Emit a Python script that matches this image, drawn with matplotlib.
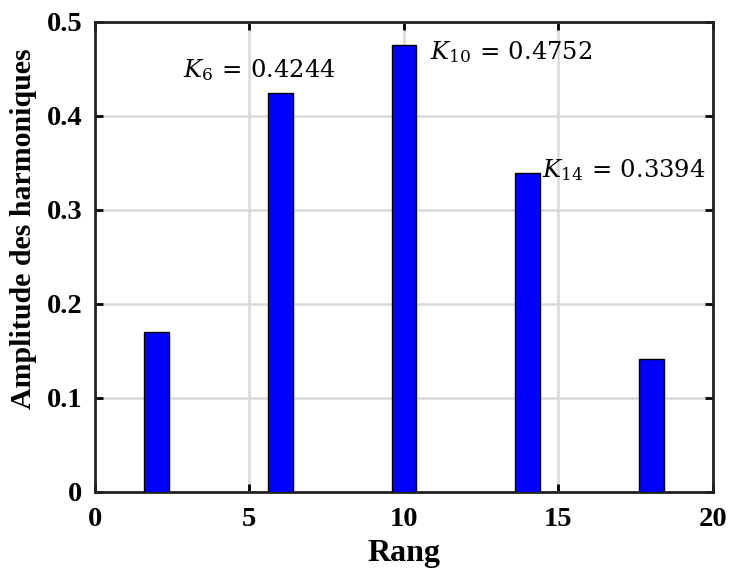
import matplotlib
matplotlib.use("Agg")
import matplotlib.pyplot as plt

rang = [2, 6, 10, 14, 18]
amplitude = [0.1698, 0.4244, 0.4752, 0.3394, 0.1415]
xticks = [0, 5, 10, 15, 20]
yticks = [0, 0.1, 0.2, 0.3, 0.4, 0.5]
ytick_labels = ["0", "0.1", "0.2", "0.3", "0.4", "0.5"]
annotations = [
    (2.85, 0.449, r"$K_6\,=\,\mathrm{0.4244}$"),
    (10.84, 0.468, r"$K_{10}\,=\,\mathrm{0.4752}$"),
    (14.47, 0.3425, r"$K_{14}\,=\,\mathrm{0.3394}$"),
]

plt.rcParams["mathtext.fontset"] = "dejavuserif"

fig = plt.figure(figsize=(7.29, 5.74), dpi=100)
ax = fig.add_axes([0.130, 0.143, 0.848, 0.819])

ax.bar(rang, amplitude, width=0.8, color="#0000ff", edgecolor="black", linewidth=1.0, zorder=3)

ax.set_xlim(0, 20)
ax.set_ylim(0, 0.5)
ax.set_xticks(xticks)
ax.set_yticks(yticks)
ax.set_yticklabels(ytick_labels)
ax.grid(True, color="#d9d9d9", linewidth=1.8, zorder=0)
ax.set_axisbelow(True)

ax.tick_params(direction="in", length=6, width=2, top=True, right=True,
               labelsize=20.5)
ax.tick_params(axis="y", pad=9)
ax.tick_params(axis="x", pad=11)
for lab in ax.get_xticklabels() + ax.get_yticklabels():
    lab.set_fontfamily("Liberation Serif")
    lab.set_fontweight("bold")
for sp in ax.spines.values():
    sp.set_linewidth(2)
    sp.set_color("#222222")

ax.set_xlabel("Rang", fontsize=23, fontweight="bold", family="Liberation Serif", labelpad=5)
ax.set_ylabel("Amplitude des harmoniques", fontsize=21.5, fontweight="bold",
              family="Liberation Serif")
ax.yaxis.set_label_coords(-0.093, 0.56)

for x, y, t in annotations:
    ax.text(x, y, t, fontsize=17.5, ha="left", va="center", zorder=4)

fig.savefig("out.png", dpi=100)
